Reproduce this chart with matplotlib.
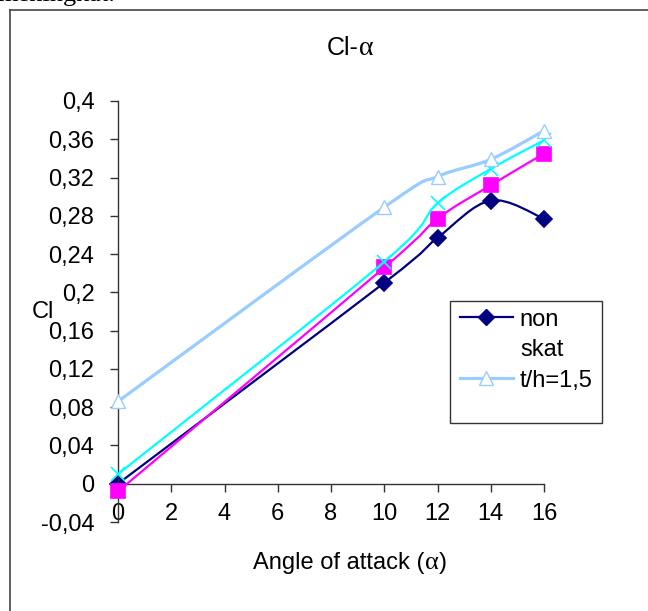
import matplotlib.pyplot as plt
from matplotlib.path import Path
from matplotlib.patches import PathPatch, Rectangle
from matplotlib.lines import Line2D

# angle of attack (deg) and lift coefficient for each configuration
alpha = [0, 10, 12, 14, 16]
cl_non_skat = [0.0, 0.210, 0.257, 0.296, 0.277]
cl_magenta = [-0.008, 0.226, 0.277, 0.312, 0.345]
cl_cyan = [0.010, 0.232, 0.293, 0.329, 0.359]
cl_th15 = [0.086, 0.289, 0.321, 0.339, 0.369]

yticks = [-0.04, 0, 0.04, 0.08, 0.12, 0.16, 0.2, 0.24, 0.28, 0.32, 0.36, 0.4]
xticks = [0, 2, 4, 6, 8, 10, 12, 14, 16]

SANS = 'Liberation Sans'
SERIF = 'Liberation Serif'
FS = 17
W, H = 648, 611


def fx(px):
    return px / W


def fy(py):
    return 1 - py / H


def smooth_path(x, y):
    # Excel-style smoothed line: cubic Bezier segments with Catmull-Rom tangents
    verts = [(x[0], y[0])]
    codes = [Path.MOVETO]
    n = len(x)
    for i in range(n - 1):
        x0, y0 = (x[i - 1], y[i - 1]) if i > 0 else (x[i], y[i])
        x3, y3 = (x[i + 2], y[i + 2]) if i + 2 < n else (x[i + 1], y[i + 1])
        c1 = (x[i] + (x[i + 1] - x0) / 6, y[i] + (y[i + 1] - y0) / 6)
        c2 = (x[i + 1] - (x3 - x[i]) / 6, y[i + 1] - (y3 - y[i]) / 6)
        verts += [c1, c2, (x[i + 1], y[i + 1])]
        codes += [Path.CURVE4] * 3
    return Path(verts, codes)


def text_run(x_px, y_px, parts, ha='left'):
    # draw consecutive text pieces (sans / serif) on one baseline
    fig.canvas.draw()
    r = fig.canvas.get_renderer()
    objs = []
    for s, fam, size in parts:
        t = fig.text(0, fy(y_px), s, fontsize=size, family=fam,
                     ha='left', va='baseline')
        objs.append(t)
    widths = [t.get_window_extent(renderer=r).width for t in objs]
    total = sum(widths)
    start = x_px - (total / 2 if ha == 'center' else 0)
    for t, w in zip(objs, widths):
        t.set_x(fx(start))
        start += w


fig = plt.figure(figsize=(W / 100, H / 100), dpi=100)
ax = fig.add_axes([fx(118), fy(522), 426 / W, 421 / H])

series = [
    (cl_non_skat, '#000080', 'D', 8, 1.6, 'full'),
    (cl_magenta, '#ff00ff', 's', 10, 1.6, 'full'),
    (cl_cyan, '#00ffff', 'x', 10, 1.6, 'full'),
    (cl_th15, '#99ccff', '^', 10, 2.3, 'none'),
]
for i, (vals, col, mk, ms, lw, fill) in enumerate(series):
    ax.add_patch(PathPatch(smooth_path(alpha, vals), fill=False, edgecolor=col,
                           lw=lw, zorder=2 + i, capstyle='round'))
    if fill == 'none':
        ax.plot(alpha, vals, ls='none', marker=mk, ms=ms, mfc='white',
                mec=col, mew=1.0, zorder=2 + i, clip_on=False)
    else:
        ax.plot(alpha, vals, ls='none', marker=mk, ms=ms, color=col,
                mew=1.2, zorder=2 + i, clip_on=False)

ax.set_xlim(0, 16)
ax.set_ylim(-0.04, 0.4)
ax.patch.set_alpha(0)
ax.spines['top'].set_visible(False)
ax.spines['right'].set_visible(False)
ax.spines['bottom'].set_position(('data', 0))
for side in ('left', 'bottom'):
    ax.spines[side].set_linewidth(1.0)
    ax.spines[side].set_color('#333333')

ax.set_yticks(yticks)
ax.set_yticklabels([('%g' % v).replace('.', ',') for v in yticks],
                   fontsize=FS, family=SANS)
ax.set_xticks(xticks)
ax.set_xticklabels([str(v) for v in xticks], fontsize=FS, family=SANS)
ax.tick_params(axis='y', direction='out', length=6, width=1, pad=11, color='#333333')
ax.tick_params(axis='x', direction='out', length=6, width=1, pad=8, color='#333333')

# title and axis labels (alpha drawn in a serif face)
text_run(350, 55, [('Cl-', SANS, FS + 1), ('α', SERIF, FS + 3)], ha='center')
text_run(350, 569, [('Angle of attack (', SANS, FS), ('α', SERIF, FS + 2),
                    (')', SANS, FS)], ha='center')
fig.text(fx(43), fy(312), 'Cl', fontsize=FS, family=SANS, ha='center', va='center')

# legend: box drawn separately so it keeps its fixed size
fig.add_artist(Rectangle((fx(450), fy(423)), 152 / W, 122 / H, fill=False,
                         edgecolor='#333333', lw=1.0, transform=fig.transFigure))
handles = [
    Line2D([], [], color='#000080', lw=1.6, marker='D', ms=8),
    Line2D([], [], color='none'),
    Line2D([], [], color='#99ccff', lw=2.3, marker='^', ms=10, mfc='white', mew=1.0),
]
fig.legend(handles, ['non', 'skat', 't/h=1,5'], loc='upper left',
           bbox_to_anchor=(fx(455), fy(304)),
           prop={'family': SANS, 'size': FS}, frameon=False,
           handlelength=2.25, handletextpad=0.3, borderpad=0.2,
           labelspacing=0.36, borderaxespad=0)

# outer chart border and the cut-off line of body text above it
fig.add_artist(Line2D([fx(9.5), 1.0], [fy(9.5)] * 2, color='#444444', lw=1.2))
fig.add_artist(Line2D([fx(9.5)] * 2, [0.0, fy(9.5)], color='#444444', lw=1.2))
fig.text(fx(-3), fy(1), 'meningkat.', fontsize=19, family=SERIF,
         ha='left', va='baseline')

fig.savefig('out.png', dpi=100)
